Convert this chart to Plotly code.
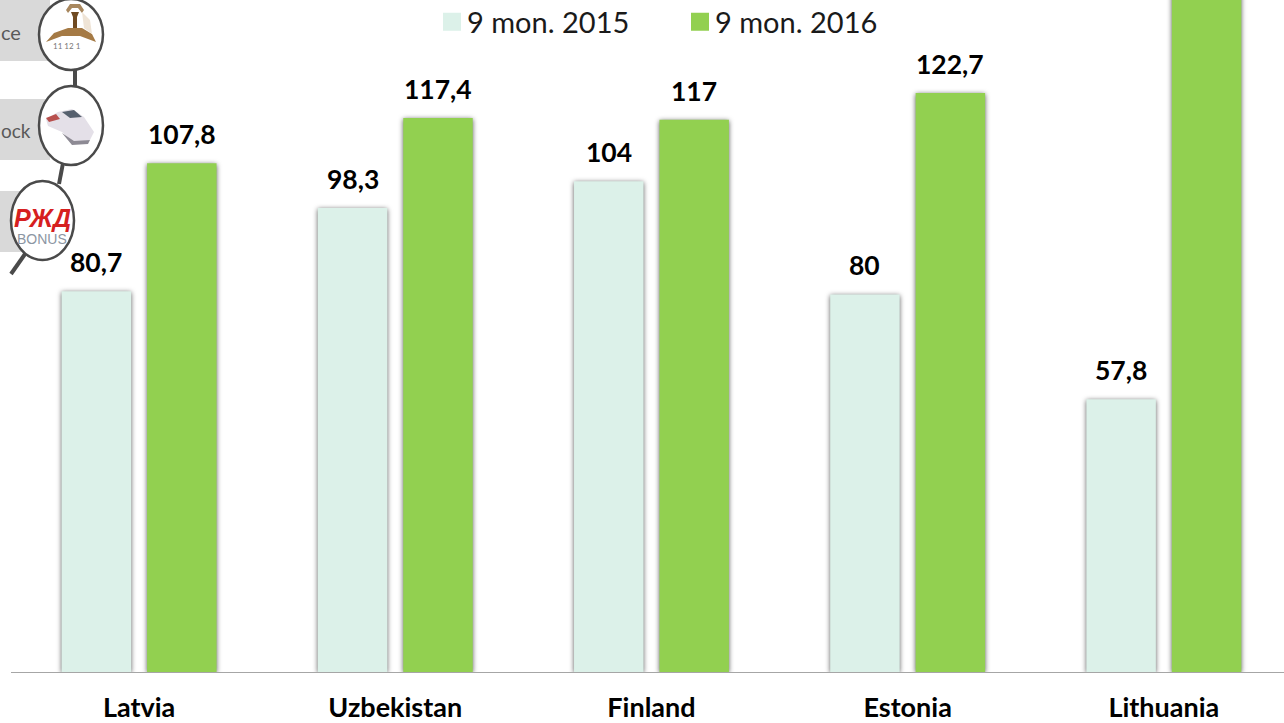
import plotly.graph_objects as go

countries = ["Latvia", "Uzbekistan", "Finland", "Estonia", "Lithuania"]
mon_2015 = [80.7, 98.3, 104, 80, 57.8]
mon_2016 = [107.8, 117.4, 117, 122.7, 150]
series_names = ["9 mon. 2015", "9 mon. 2016"]
COL_2015 = "#dcf1e9"
COL_2016 = "#92d050"
Y_TOP = 142.4

W, H = 1284, 723
ML, MB = 11, 51
PW, PH = W - ML, H - MB


def px(x):
    return (x - ML) / PW


def py(y):
    return 1 - y / PH


fig = go.Figure()

for name, vals, col, grp in [(series_names[0], mon_2015, COL_2015, "a"),
                             (series_names[1], mon_2016, COL_2016, "b")]:
    fig.add_trace(go.Bar(x=countries, y=vals, offsetgroup=grp, name=name, showlegend=False,
                         marker=dict(color=col, line=dict(width=0))))

# legend entries
for name, col in zip(series_names, [COL_2015, COL_2016]):
    fig.add_trace(go.Scatter(x=[None], y=[None], mode="markers", name=name,
                             marker=dict(symbol="square", size=16, color=col,
                                         line=dict(color=col, width=2))))

annotations = []
BAR_SHIFT = 42.7
for vals, xs in [(mon_2015, -BAR_SHIFT), (mon_2016, BAR_SHIFT)]:
    for c, v in zip(countries, vals):
        if v < Y_TOP:
            annotations.append(dict(x=c, y=v, xref="x", yref="y", xshift=xs, yshift=11,
                                    yanchor="bottom", showarrow=False,
                                    text=str(v).replace(".", ","),
                                    font=dict(family="Lato", size=26.5, color="#000000",
                                              weight="bold")))

# ---- decorative pictograms cut off at the left edge
shapes = []
GREY = "#d9d9d9"
RING = "#4a4a4a"
for y0, y1, x1 in [(0, 61, 50), (99, 160, 50), (191, 252, 25)]:
    shapes.append(dict(type="rect", xref="paper", yref="paper", x0=px(0), x1=px(x1),
                       y0=py(y0), y1=py(y1), fillcolor=GREY, line_width=0, layer="above"))
for x0, y0, x1, y1 in [(75, 68, 75, 88), (63, 163, 59, 184), (25, 254, 11, 274)]:
    shapes.append(dict(type="line", xref="paper", yref="paper", x0=px(x0), x1=px(x1),
                       y0=py(y0), y1=py(y1), line=dict(color=RING, width=4), layer="above"))
for x0, y0, x1, y1 in [(39, -1, 103, 70), (39, 86, 103, 165), (11, 181, 74, 260)]:
    shapes.append(dict(type="circle", xref="paper", yref="paper", x0=px(x0), x1=px(x1),
                       y0=py(y0), y1=py(y1), fillcolor="#ffffff",
                       line=dict(color=RING, width=2.5), layer="above"))


def path(points, fill):
    d = "M" + " L".join(f"{px(a):.5f},{py(b):.5f}" for a, b in points) + " Z"
    shapes.append(dict(type="path", xref="paper", yref="paper", path=d, fillcolor=fill,
                       line_width=0, layer="above"))


# pocket watch
path([(66, 10), (70, 4), (80, 4), (84, 10), (82, 13), (78, 8), (72, 8), (68, 13)], "#a8875e")
path([(71, 12), (79, 12), (77, 17), (77, 28), (73, 28), (73, 17)], "#6f4a22")
path([(46, 42), (54, 33), (68, 28), (82, 28), (92, 34), (96, 42), (80, 36), (62, 36)], "#a57a45")
path([(82, 12), (90, 20), (92, 34), (84, 28)], "#efe4d6")
# train
path([(46, 119), (58, 112), (72, 109), (84, 117), (94, 132), (90, 140), (74, 143), (62, 132), (48, 126)], "#e4e0e8")
path([(62, 112), (74, 110), (82, 117), (70, 118)], "#56606e")
path([(46, 118), (56, 114), (60, 119), (49, 122)], "#b8504e")
path([(62, 133), (74, 141), (90, 140), (88, 144), (72, 145)], "#8d8a94")

annotations += [
    dict(xref="paper", yref="paper", x=px(0), y=py(32), xanchor="left", yanchor="middle",
         text="ce", showarrow=False, borderpad=0, font=dict(family="Lato", size=20, color="#595959")),
    dict(xref="paper", yref="paper", x=px(0), y=py(130), xanchor="left", yanchor="middle",
         text="ock", showarrow=False, borderpad=0, font=dict(family="Lato", size=19, color="#595959")),
    dict(xref="paper", yref="paper", x=px(67), y=py(46), xanchor="center", yanchor="middle",
         text="11 12 1", showarrow=False, font=dict(family="Lato", size=8, color="#777777")),
    dict(xref="paper", yref="paper", x=px(42), y=py(218), xanchor="center", yanchor="middle",
         text="<b><i>РЖД</i></b>", showarrow=False,
         font=dict(family="Liberation Sans", size=25, color="#d6201f")),
    dict(xref="paper", yref="paper", x=px(42), y=py(239), xanchor="center", yanchor="middle",
         text="BONUS", showarrow=False,
         font=dict(family="Liberation Sans Narrow, Liberation Sans", size=14, color="#8c96a3")),
]

fig.update_layout(
    width=W, height=H,
    margin=dict(l=ML, r=0, t=0, b=MB, pad=0),
    autosize=False,
    paper_bgcolor="#ffffff", plot_bgcolor="#ffffff",
    barmode="group", bargap=0.333, bargroupgap=0.187,
    shapes=shapes, annotations=annotations,
    showlegend=True,
    legend=dict(orientation="h", x=px(432), y=py(28), xanchor="left", yanchor="middle",
                font=dict(family="Lato", size=29, color="#1a1a1a"),
                itemsizing="trace", entrywidth=203, entrywidthmode="pixels",
                bgcolor="rgba(0,0,0,0)"),
)
fig.update_xaxes(type="category", categoryorder="array", categoryarray=countries,
                 range=[-0.5, 4.469], showgrid=False, zeroline=False, showline=True,
                 automargin=False,
                 linecolor="#a6a6a6", linewidth=1, ticks="outside", ticklen=12,
                 tickcolor="rgba(0,0,0,0)",
                 tickfont=dict(family="Lato", size=27, color="#000000", weight="bold"))
fig.update_yaxes(range=[0, Y_TOP], visible=False, showgrid=False, zeroline=False, automargin=False)

post = """
document.documentElement.style.margin = '0';
document.body.style.margin = '0';
document.body.style.overflow = 'hidden';
var s = document.createElement('style');
s.textContent = '.barlayer .point path {filter: drop-shadow(0px 1px 2.5px rgba(0,0,0,0.65));}'
  + '.legend {translate: 0px -6px;}'
  + '.legend .legendtext {translate: -5px 0px;}';
document.head.appendChild(s);
"""
fig.write_html("out.html", config=dict(displayModeBar=False), post_script=post)
